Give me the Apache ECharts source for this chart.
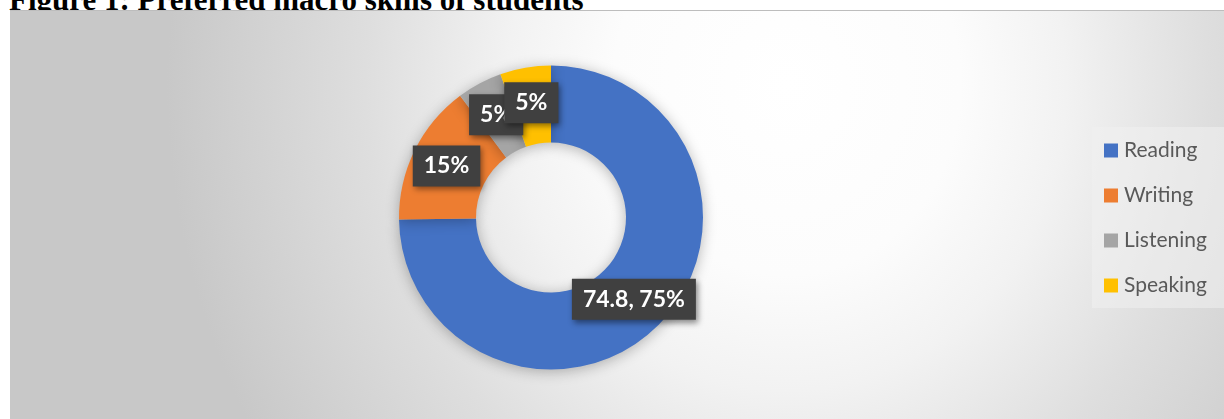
<!DOCTYPE html>
<html>
<head>
<meta charset="utf-8">
<script src="https://cdn.jsdelivr.net/npm/echarts@6/dist/echarts.min.js"></script>
<style>
  html, body { margin: 0; padding: 0; width: 1224px; height: 419px; overflow: hidden; background: #ffffff; }
  #title { position: absolute; left: 9px; top: -16px; font-family: "Liberation Serif", "Times New Roman", serif; font-weight: bold; font-size: 31px; line-height: 31px; color: #000; white-space: nowrap; }
  #bg { position: absolute; left: 10px; top: 10px; width: 1214px; height: 409px; border-top: 1px solid #bdbdbd;
        background: radial-gradient(ellipse 620px 680px at 64% 18%, #ffffff 0%, #fcfcfc 28%, #f2f2f2 45%, #dedede 68%, #c8c8c8 100%); }
  #chart { position: absolute; left: 0; top: 0; width: 1224px; height: 419px; }
</style>
</head>
<body>
<div id="title">Figure 1: Preferred macro skills of students</div>
<div id="bg"></div>
<div id="chart"></div>
<script>
// ---- data ----
const categories = ['Reading', 'Writing', 'Listening', 'Speaking'];
const values = [74.8, 15.0, 4.8, 5.4];
const showValueInLabel = [true, false, false, false];
const colors = ['#4472C4', '#ED7D31', '#A5A5A5', '#FFC000'];

const chart = echarts.init(document.getElementById('chart'), null, { renderer: 'canvas' });

const seriesData = categories.map((name, i) => ({
  name: name,
  value: values[i],
  itemStyle: { color: colors[i] }
}));

chart.setOption({
  backgroundColor: 'transparent',
  animation: false,
  legend: {
    orient: 'vertical',
    left: 1092,
    top: 127,
    padding: [13, 20, 12, 12],
    backgroundColor: 'rgba(240,240,240,0.55)',
    itemWidth: 14,
    itemHeight: 14,
    itemGap: 24,
    icon: 'rect',
    data: categories,
    textStyle: { fontFamily: 'Lato', fontSize: 21, lineHeight: 20, color: '#595959', padding: [0, 0, 0, 1] }
  },
  series: [{
    type: 'pie',
    center: [551, 217.5],
    radius: [75, 152],
    startAngle: 90,
    clockwise: true,
    avoidLabelOverlap: false,
    data: seriesData,
    itemStyle: {
      shadowBlur: 14,
      shadowColor: 'rgba(0,0,0,0.28)',
      shadowOffsetX: 0,
      shadowOffsetY: 2
    },
    labelLayout: { hideOverlap: false },
    label: {
      show: true,
      position: 'inside',
      formatter: p => (showValueInLabel[p.dataIndex] ? p.value + ', ' : '') + Math.round(p.percent) + '%',
      fontFamily: 'Lato',
      fontWeight: 'bold',
      fontSize: 23,
      lineHeight: 23,
      color: '#ffffff',
      backgroundColor: '#404040',
      padding: [9, 11, 9, 11],
      shadowBlur: 6,
      shadowOffsetX: 2,
      shadowOffsetY: 3,
      shadowColor: 'rgba(0,0,0,0.45)'
    },
    labelLine: { show: false },
    emphasis: { disabled: true }
  }]
});
</script>
</body>
</html>
